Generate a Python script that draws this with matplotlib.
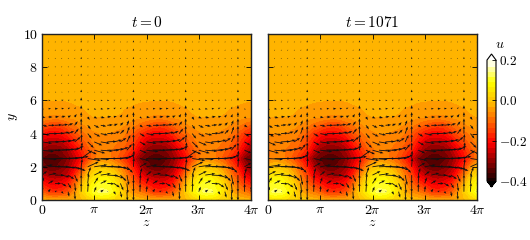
import numpy as np
import matplotlib
matplotlib.use("Agg")
import matplotlib.pyplot as plt
from matplotlib.colors import LinearSegmentedColormap

plt.rcParams["mathtext.fontset"] = "cm"
plt.rcParams["font.family"] = "cmr10"
plt.rcParams["font.size"] = 9.5
plt.rcParams["axes.formatter.use_mathtext"] = True

y_rows = [0, 0.5, 1, 1.5, 2, 2.5, 3, 3.5, 4, 4.5, 5, 5.5, 6, 6.5, 7, 7.5, 8, 8.5, 9, 9.5, 10]

u_table = [
    [-.02, -.03, -.03, -.03, -.03, -.02, -.01, .02, .04, .05, .05, .04, .03, .02, 0, -.01],
    [-.11, -.15, -.16, -.15, -.12, -.06, .02, .07, .115, .135, .13, .095, .04, -.02, -.06, -.08],
    [-.18, -.21, -.22, -.21, -.18, -.11, -.02, .05, .09, .11, .105, .07, .02, -.05, -.10, -.15],
    [-.25, -.27, -.28, -.27, -.24, -.17, -.08, 0, .045, .06, .06, .03, -.02, -.08, -.14, -.21],
    [-.31, -.33, -.33, -.31, -.28, -.22, -.15, -.07, -.01, .01, 0, -.02, -.06, -.12, -.18, -.26],
    [-.33, -.345, -.35, -.33, -.30, -.25, -.20, -.14, -.08, -.06, -.06, -.09, -.12, -.17, -.23, -.30],
    [-.29, -.31, -.31, -.30, -.27, -.22, -.17, -.12, -.08, -.07, -.07, -.08, -.10, -.13, -.17, -.24],
    [-.24, -.26, -.26, -.25, -.22, -.17, -.13, -.09, -.07, -.06, -.06, -.07, -.08, -.10, -.14, -.19],
    [-.18, -.20, -.20, -.19, -.16, -.12, -.09, -.07, -.055, -.05, -.05, -.055, -.06, -.08, -.11, -.15],
    [-.11, -.13, -.14, -.13, -.10, -.08, -.06, -.045, -.04, -.035, -.035, -.04, -.045, -.055, -.07, -.09],
    [-.05, -.055, -.058, -.055, -.048, -.04, -.033, -.028, -.025, -.025, -.025, -.025, -.028, -.033, -.04, -.046],
    [-.033, -.035, -.036, -.035, -.033, -.03, -.027, -.022, -.019, -.017, -.017, -.019, -.022, -.027, -.03, -.032],
    [-.024, -.025, -.0255, -.025, -.024, -.021, -.017, -.012, -.008, -.006, -.006, -.008, -.01, -.014, -.02, -.023],
    [-.01, -.01, -.01, -.01, -.01, -.01, -.008, -.006, -.005, -.004, -.004, -.005, -.006, -.008, -.01, -.01],
]
u_far = [-.005, -.005, -.005, -.005, -.005, -.005, -.005, -.005, -.005, -.005, -.005, -.005, -.005, -.005, -.005, -.005]

# arrow components, 1 is about 10 px on the page
w_table = [
    [0, 0, 0, 0, 0, 0, 0, 0, 0, 0, 0, 0, 0, 0, 0, 0],
    [.05, .2, .2, .2, .1, .05, 0, .05, .2, .3, .1, .2, .15, .05, 0, .02],
    [.2, .5, .6, .5, .3, .1, 0, .1, .4, .6, .7, .6, .3, .1, 0, .05],
    [.5, .8, .9, .8, .6, .3, 0, .3, .8, 1.0, 1.1, 1.0, .6, .2, 0, .2],
    [1.1, 1.3, 1.4, 1.4, 1.3, 1.1, .1, 1.1, 1.3, 1.4, 1.4, 1.3, 1.0, .6, .05, .7],
    [1.5, 1.6, 1.7, 1.7, 1.6, 1.4, 1.1, 1.3, 1.5, 1.6, 1.6, 1.5, 1.2, .8, .05, .9],
    [1.2, 1.3, 1.4, 1.3, 1.2, .9, .1, .9, 1.1, 1.2, 1.2, 1.0, .8, .5, 0, .7],
    [1.0, 1.1, 1.1, 1.0, .8, .6, .05, .6, .8, .9, .9, .8, .6, .35, 0, .6],
    [.8, .9, .9, .8, .6, .4, 0, .4, .6, .7, .7, .6, .4, .25, 0, .5],
    [.55, .65, .7, .65, .5, .3, 0, .3, .5, .55, .55, .4, .3, .2, 0, .3],
    [.35, .4, .4, .4, .3, .2, 0, .2, .3, .4, .4, .3, .2, .12, 0, .2],
    [.2, .25, .3, .25, .2, .12, 0, .12, .2, .25, .25, .2, .12, .08, 0, .12],
    [.15, .2, .2, .2, .15, .1, 0, .1, .15, .2, .2, .15, .1, .05, 0, .1],
    [.1, .1, .12, .1, .1, .05, 0, .05, .1, .12, .12, .1, .05, 0, 0, .05],
]
v_table = [
    [0, 0, 0, 0, 0, 0, 0, 0, 0, 0, 0, 0, 0, 0, 0, 0],
    [.6, .3, .1, -.2, -.5, -.8, .9, .9, .5, .2, 0, -.3, -.6, -.9, -.9, .8],
    [.6, .3, 0, -.3, -.5, -.8, .9, 1.0, .6, .3, -.05, -.4, -.7, -1.0, -.9, .9],
    [.4, .2, 0, -.2, -.4, -.7, .9, .8, .4, .15, -.05, -.3, -.6, -1.0, -.9, .7],
    [.2, .05, 0, -.1, -.2, -.4, .8, .5, .2, .05, 0, -.1, -.3, -.6, .9, .4],
    [-.1, 0, 0, .05, .1, .2, .8, -.2, -.1, 0, 0, .05, .2, .4, .8, -.2],
    [-.15, 0, .05, .1, .2, .4, .8, -.4, -.3, -.1, 0, .15, .3, .6, .8, -.3],
    [-.15, 0, .05, .15, .25, .5, .8, -.6, -.35, -.15, .05, .2, .4, .7, .8, -.35],
    [-.15, 0, .05, .15, .25, .5, .8, -.5, -.3, -.15, .05, .2, .4, .7, .8, -.3],
    [-.1, 0, .05, .1, .2, .4, .7, -.4, -.25, -.1, .05, .15, .3, .5, .7, -.2],
    [-.05, 0, .05, .1, .15, .3, .5, -.3, -.15, -.1, .05, .1, .25, .3, .5, -.15],
    [-.05, 0, 0, .05, .1, .15, .35, -.15, -.1, -.05, 0, .1, .1, .2, .35, -.1],
    [0, 0, 0, .05, .05, .1, .3, -.1, -.05, 0, 0, .05, .1, .1, .3, -.05],
    [0, 0, 0, 0, .05, .05, .25, -.05, 0, 0, 0, 0, .05, .05, .25, 0],
]
w_far = [.05, .05, .05, .05, .05, .05, 0, .05, .05, .05, .05, .05, .05, .05, 0, .05]
v_far = [.1, .1, .1, .1, .1, .1, .2, .1, .1, .1, .1, .1, .1, .1, .2, .1]

n_far = len(y_rows) - len(u_table)


def full_field(table, far, shift):
    rows = np.vstack([np.array(table), np.array([far] * n_far)])
    rows = np.roll(rows, shift, axis=1)
    return np.hstack([rows, rows, rows[:, :1]])


z = np.arange(33) * np.pi / 8
y = np.array(y_rows)
levels = np.arange(-0.4, 0.2001, 0.025)
cmap = LinearSegmentedColormap.from_list(
    "bar",
    [(0, (0.04, 0, 0)), (1 / 3, (1, 0, 0)), (2 / 3, (1, 0.75, 0)), (5 / 6, (1, 1, 0)), (1, (1, 1, 1))],
).with_extremes(under="black", over="white")

fig = plt.figure(figsize=(5.3, 2.4), dpi=100)
W, H = 530.0, 240.0
ax1 = fig.add_axes([42 / W, 1 - 200 / H, 209 / W, 166 / H])
ax2 = fig.add_axes([268 / W, 1 - 200 / H, 209 / W, 166 / H])
cax = fig.add_axes([487 / W, 1 - 187 / H, 9 / W, 133 / H])

titles = ["$t=0$", "$t=1071$"]
shifts = [0, 8]
for ax, title, shift in zip([ax1, ax2], titles, shifts):
    u = full_field(u_table, u_far, shift)
    w = full_field(w_table, w_far, shift)
    v = full_field(v_table, v_far, shift)
    cf = ax.contourf(z, y, u, levels=levels, cmap=cmap, extend="both")
    ax.quiver(z, y, w, v, angles="uv", scale=10, scale_units="inches", width=0.004,
              headwidth=3, headlength=4, headaxislength=3.5, minlength=0.5, color="#111111")
    ax.set_xlim(0, 4 * np.pi)
    ax.set_ylim(0, 10)
    ax.set_title(title, fontsize=11, pad=5)
    ax.set_xticks(np.arange(5) * np.pi)
    ax.set_xticklabels(["$0$", r"$\pi$", r"$2\pi$", r"$3\pi$", r"$4\pi$"])
    ax.set_yticks([0, 2, 4, 6, 8, 10])
    ax.tick_params(direction="in", top=True, right=True, length=3.5, width=0.6, pad=3, labelsize=10)
    ax.set_xlabel("$z$", fontsize=10, labelpad=0)
    for s in ax.spines.values():
        s.set_linewidth(1.0)
        s.set_color("#222222")

ax1.set_yticklabels(["$0$", "$2$", "$4$", "$6$", "$8$", "$10$"])
ax1.set_ylabel("$y$", fontsize=10, labelpad=2)
ax2.set_yticklabels([])

cb = fig.colorbar(cf, cax=cax, extend="both", ticks=[-0.4, -0.2, 0, 0.2])
cb.ax.set_yticklabels(["$-0.4$", "$-0.2$", "$0.0$", "$0.2$"])
cb.ax.tick_params(direction="in", length=3, width=0.6, pad=2, labelsize=9.5)
cb.outline.set_linewidth(0.8)
cb.solids.set_edgecolor("face")
fig.text(500 / W, 1 - 45 / H, "$u$", fontsize=10, ha="center", va="center")

fig.savefig("out.png", dpi=100)
